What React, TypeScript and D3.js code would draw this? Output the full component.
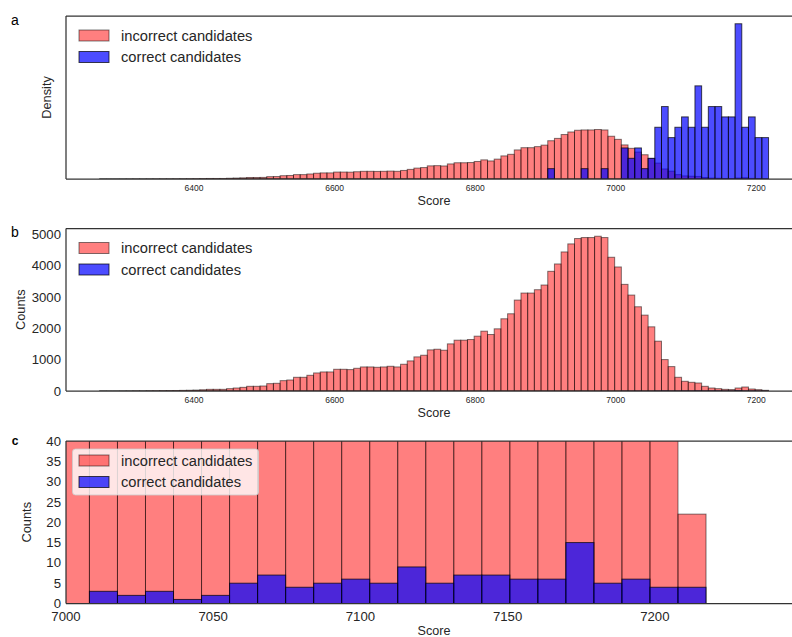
import React from 'react';
import * as d3 from 'd3';

// Histogram binning shared by every panel
const SCORE_MIN = 6265.4;
const SCORE_MAX = 7217.4;
const N_BINS = 100;

// Counts per bin, incorrect candidates
const incorrectCounts = [
  1, 0, 0, 1, 2, 5, 4, 8, 9, 12,
  14, 16, 20, 24, 30, 40, 53, 53, 53, 75,
  96, 117, 150, 150, 160, 235, 246, 331, 352, 438,
  438, 502, 577, 609, 609, 694, 694, 684, 726, 769,
  769, 758, 769, 790, 769, 855, 962, 1090, 1143, 1314,
  1335, 1303, 1506, 1624, 1624, 1645, 1752, 1912, 1805, 1987,
  2308, 2468, 2906, 3130, 3130, 3237, 3387, 3825, 4060, 4444,
  4701, 4872, 4904, 4904, 4946, 4904, 4274, 3964, 3408, 3066,
  2692, 2425, 2051, 1592, 1004, 780, 438, 310, 278, 256,
  150, 96, 75, 53, 45, 96, 128, 64, 43, 22,
];

// Counts per bin, correct candidates
const correctCounts = [
  0, 0, 0, 0, 0, 0, 0, 0, 0, 0,
  0, 0, 0, 0, 0, 0, 0, 0, 0, 0,
  0, 0, 0, 0, 0, 0, 0, 0, 0, 0,
  0, 0, 0, 0, 0, 0, 0, 0, 0, 0,
  0, 0, 0, 0, 0, 0, 0, 0, 0, 0,
  0, 0, 0, 0, 0, 0, 0, 0, 0, 0,
  0, 0, 0, 0, 0, 0, 0, 1, 0, 0,
  0, 0, 1, 0, 0, 1, 0, 0, 3, 2,
  3, 1, 2, 5, 7, 4, 5, 6, 5, 9,
  5, 7, 7, 6, 6, 15, 5, 6, 4, 4,
];

const wideTicks = [6400, 6600, 6800, 7000, 7200];
const countTicks = [0, 1000, 2000, 3000, 4000, 5000];
const zoomTicks = [7000, 7050, 7100, 7150, 7200];
const zoomCountTicks = [0, 5, 10, 15, 20, 25, 30, 35, 40];
const seriesLabels = ['incorrect candidates', 'correct candidates'];
const panelLetters = ['a', 'b', 'c'];

const W = 792;
const H = 637;
const LEFT = 66;
const RIGHT = 802;
const FONT = '"Liberation Sans", Arial, Helvetica, sans-serif';
const INK = '#262626';
const SPINE = '#333333';

const binEdges = d3.range(N_BINS + 1).map((i) => SCORE_MIN + (i * (SCORE_MAX - SCORE_MIN)) / N_BINS);
const binWidth = (SCORE_MAX - SCORE_MIN) / N_BINS;
const margin = 0.05 * (SCORE_MAX - SCORE_MIN);

const series = [
  { counts: incorrectCounts, fill: '#ff0000', alpha: 0.5, label: seriesLabels[0] },
  { counts: correctCounts, fill: '#0000ff', alpha: 0.7, label: seriesLabels[1] },
];

type Mode = 'density' | 'counts' | 'zoom';

function Bars({ values, color, alpha, x, y, drawZero }: any) {
  const y0 = y(0);
  return (
    <g>
      {values.map((v: number, i: number) => {
        const x0 = x(binEdges[i]);
        const x1 = x(binEdges[i + 1]);
        if (v <= 0) {
          return drawZero ? (
            <line key={i} x1={x0} x2={x1} y1={y0} y2={y0} stroke="#000" strokeOpacity={alpha} strokeWidth={1} />
          ) : null;
        }
        const yt = y(v);
        return (
          <rect
            key={i}
            x={x0}
            y={yt}
            width={x1 - x0}
            height={y0 - yt}
            fill={color}
            fillOpacity={alpha}
            stroke="#000"
            strokeOpacity={alpha}
            strokeWidth={1}
          />
        );
      })}
    </g>
  );
}

function Legend({ top, framed }: { top: number; framed: boolean }) {
  return (
    <g>
      {framed && (
        <rect x={72.5} y={top - 6} width={186} height={46} rx={3} fill="#ffffff" fillOpacity={0.8} stroke="#cccccc" strokeOpacity={0.8} />
      )}
      {series.map((s, i) => (
        <g key={s.label} transform={`translate(0, ${top + i * 21.5})`}>
          <rect x={79} y={0} width={30} height={11} fill={s.fill} fillOpacity={s.alpha} stroke="#000" strokeOpacity={s.alpha} />
          <text x={121} y={5.5} dy="0.35em" fontSize={14.7} fill={INK} fontFamily={FONT}>
            {s.label}
          </text>
        </g>
      ))}
    </g>
  );
}

function Panel({ mode, top, bottom, letter, id }: { mode: Mode; top: number; bottom: number; letter: string; id: string }) {
  const zoom = mode === 'zoom';
  const x = d3
    .scaleLinear()
    .domain(zoom ? [7000, 7250] : [SCORE_MIN - margin, SCORE_MAX + margin])
    .range([LEFT, RIGHT]);

  const totals = series.map((s) => d3.sum(s.counts));
  const valuesFor = (k: number) =>
    mode === 'density' ? series[k].counts.map((c) => c / (totals[k] * binWidth)) : series[k].counts;
  const vals = [valuesFor(0), valuesFor(1)];

  const yMax = zoom ? 40 : 1.05 * (d3.max([...vals[0], ...vals[1]]) as number);

  const y = d3.scaleLinear().domain([0, yMax]).range([bottom, top]);
  const xTicks = zoom ? zoomTicks : wideTicks;
  const yTicks = zoom ? zoomCountTicks : mode === 'counts' ? countTicks : [];
  const clipId = `clip-${id}`;
  const midY = (top + bottom) / 2;

  return (
    <g>
      <defs>
        <clipPath id={clipId}>
          <rect x={LEFT} y={top} width={RIGHT - LEFT} height={bottom - top} />
        </clipPath>
      </defs>
      <g clipPath={`url(#${clipId})`}>
        {vals.map((v, k) => (
          <Bars key={k} values={v} color={series[k].fill} alpha={series[k].alpha} x={x} y={y} drawZero={!zoom} />
        ))}
      </g>
      {/* spines */}
      <line x1={LEFT} x2={RIGHT} y1={top} y2={top} stroke={SPINE} strokeWidth={1.25} />
      <line x1={LEFT} x2={RIGHT} y1={bottom} y2={bottom} stroke={SPINE} strokeWidth={1.25} />
      <line x1={LEFT} x2={LEFT} y1={top} y2={bottom} stroke={SPINE} strokeWidth={1.25} />

      {xTicks.map((t) => (
        <text
          key={t}
          x={x(t)}
          y={zoom ? bottom + 12.5 : bottom + 9.5}
          dy="0.35em"
          textAnchor="middle"
          fontSize={zoom ? 13.2 : 8.5}
          fill={INK}
          fontFamily={FONT}
        >
          {t}
        </text>
      ))}
      {yTicks.map((t) => (
        <text key={t} x={61} y={y(t) - (zoom && t === 0 ? 0.5 : 0)} dy="0.35em" textAnchor="end" fontSize={13.2} fill={INK} fontFamily={FONT}>
          {t}
        </text>
      ))}
      <text
        x={434}
        y={zoom ? bottom + 27 : bottom + 21.5}
        dy="0.35em"
        textAnchor="middle"
        fontSize={12.6}
        fill={INK}
        fontFamily={FONT}
      >
        Score
      </text>
      <text
        transform={`translate(${mode === 'density' ? 46.5 : mode === 'counts' ? 20.5 : 27}, ${midY}) rotate(-90)`}
        dy="0.35em"
        textAnchor="middle"
        fontSize={12.8}
        fill={INK}
        fontFamily={FONT}
      >
        {mode === 'density' ? 'Density' : 'Counts'}
      </text>
      <text
        x={15}
        y={zoom ? top : top + 4}
        dy="0.35em"
        textAnchor="middle"
        fontSize={zoom ? 12 : 14}
        fontWeight={zoom ? 'bold' : 'normal'}
        fill="#000"
        fontFamily={FONT}
      >
        {letter}
      </text>
      <Legend top={top + 14} framed={zoom} />
    </g>
  );
}

export default function App() {
  return (
    <svg
      width={W}
      height={H}
      viewBox={`0 0 ${W} ${H}`}
      style={{ position: 'absolute', left: 0, top: 0, background: '#ffffff' }}
    >
      <rect width={W} height={H} fill="#ffffff" />
      <Panel id="a" mode="density" top={16} bottom={179} letter={panelLetters[0]} />
      <Panel id="b" mode="counts" top={228.5} bottom={391} letter={panelLetters[1]} />
      <Panel id="c" mode="zoom" top={441} bottom={603.5} letter={panelLetters[2]} />
    </svg>
  );
}
